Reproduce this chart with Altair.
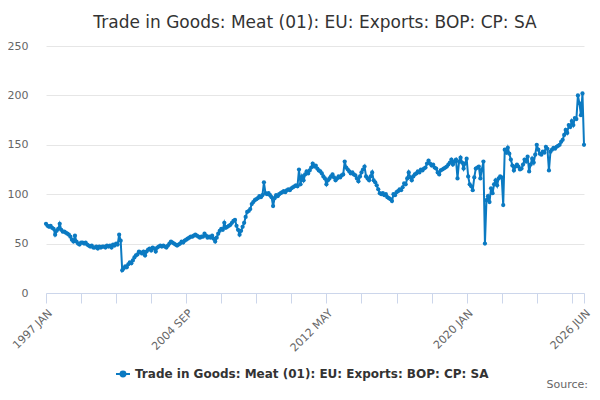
import json

import altair as alt
import pandas as pd


title = "Trade in Goods: Meat (01): EU: Exports: BOP: CP: SA"
series_name = "Trade in Goods: Meat (01): EU: Exports: BOP: CP: SA"
line_color = "#0b7ac2"
font = "DejaVu Sans"

# monthly values, one list per year
y1997 = [70, 68, 67, 68, 66, 65, 59, 63, 65, 70, 64, 62]
y1998 = [62, 61, 60, 59, 57, 54, 52, 58, 52, 50, 49, 51]
y1999 = [51, 50, 51, 49, 48, 47, 48, 46, 46, 47, 45, 47]
y2000 = [46, 47, 47, 46, 48, 47, 48, 46, 49, 48, 50, 49]
y2001 = [59, 53, 23, 25, 27, 26, 29, 31, 30, 33, 36, 38]
y2002 = [39, 42, 41, 40, 42, 38, 42, 44, 45, 43, 46, 45]
y2003 = [42, 46, 47, 48, 47, 48, 47, 46, 48, 50, 52, 51]
y2004 = [50, 49, 48, 49, 50, 52, 51, 53, 54, 55, 56, 57]
y2005 = [57, 58, 59, 58, 57, 56, 57, 57, 60, 58, 56, 57]
y2006 = [56, 58, 55, 52, 56, 60, 63, 65, 64, 71, 66, 67]
y2007 = [68, 69, 71, 73, 74, 68, 64, 59, 63, 67, 71, 77]
y2008 = [82, 83, 85, 90, 92, 94, 95, 96, 98, 97, 99, 112]
y2009 = [101, 100, 101, 99, 97, 88, 96, 99, 98, 100, 101, 102]
y2010 = [103, 102, 104, 105, 104, 106, 107, 108, 109, 108, 125, 110]
y2011 = [118, 114, 120, 123, 121, 124, 127, 131, 128, 129, 126, 124]
y2012 = [123, 121, 118, 116, 110, 114, 116, 118, 120, 117, 114, 116]
y2013 = [118, 117, 119, 120, 133, 127, 125, 123, 121, 122, 120, 119]
y2014 = [116, 113, 118, 122, 125, 128, 118, 116, 114, 118, 122, 114]
y2015 = [112, 109, 105, 101, 100, 101, 99, 100, 97, 96, 95, 93]
y2016 = [100, 99, 102, 103, 105, 104, 107, 111, 110, 116, 122, 117]
y2017 = [114, 118, 120, 121, 123, 122, 125, 124, 126, 127, 131, 134]
y2018 = [131, 129, 130, 127, 126, 122, 120, 124, 125, 126, 127, 128]
y2019 = [130, 132, 135, 130, 133, 135, 116, 133, 137, 132, 126, 131]
y2020 = [136, 118, 110, 108, 104, 117, 126, 127, 128, 116, 125, 133]
y2021 = [50, 94, 98, 92, 106, 101, 110, 114, 109, 116, 118, 117]
y2022 = [89, 145, 142, 147, 141, 135, 129, 124, 128, 130, 128, 125]
y2023 = [126, 130, 135, 133, 138, 123, 130, 136, 132, 140, 150, 145]
y2024 = [141, 140, 143, 142, 148, 146, 124, 143, 145, 147, 146, 148]
y2025 = [149, 150, 153, 155, 160, 165, 162, 170, 168, 174, 170, 177]
y2026 = [176, 200, 192, 180, 202, 150]

values = (y1997 + y1998 + y1999 + y2000 + y2001 + y2002 + y2003 + y2004
          + y2005 + y2006 + y2007 + y2008 + y2009 + y2010 + y2011 + y2012
          + y2013 + y2014 + y2015 + y2016 + y2017 + y2018 + y2019 + y2020
          + y2021 + y2022 + y2023 + y2024 + y2025 + y2026)

months = list(pd.date_range("1997-01-01", periods=len(values), freq="MS")
              .strftime("%Y %b").str.upper())

# ticks every 23 months plus the last one, labels on every 4th tick
tick_months = months[::23] + [months[-1]]
label_months = ["1997 JAN", "2004 SEP", "2012 MAY", "2020 JAN", "2026 JUN"]
y_ticks = [0, 50, 100, 150, 200, 250]

df = pd.DataFrame({"month": months, "value": values, "series": series_name})

label_expr = "indexof(%s, datum.value) >= 0 ? datum.value : ''" % json.dumps(label_months)

line = alt.Chart(df).mark_line(
    strokeWidth=2,
    point=alt.OverlayMarkDef(filled=True, size=18),
).encode(
    x=alt.X("month:O", sort=None, scale=alt.Scale(type="point", padding=0),
            axis=alt.Axis(values=tick_months, labelExpr=label_expr, labelAngle=-45,
                          labelOverlap=False, tickSize=10, tickColor="#ccd6eb",
                          domainColor="#ccd6eb", grid=False, title=None,
                          labelPadding=4)),
    y=alt.Y("value:Q", scale=alt.Scale(domain=[0, 250], nice=False),
            axis=alt.Axis(values=y_ticks, tickSize=0, domain=False, title=None,
                          labelPadding=18, gridColor="#e6e6e6")),
    color=alt.Color("series:N", scale=alt.Scale(range=[line_color]),
                    legend=alt.Legend(title=None, orient="none", legendX=69, legendY=320,
                                      symbolType="M-1,0L1,0M-0.35,0A0.35,0.35 0 1,0 0.35,0A0.35,0.35 0 1,0 -0.35,0Z",
                                      symbolSize=196, symbolStrokeWidth=2,
                                      symbolFillColor=line_color,
                                      labelFontSize=12, labelFontWeight="bold",
                                      labelColor="#333333", labelLimit=500)),
)

source = alt.Chart(pd.DataFrame({"t": ["Source:"]})).mark_text(
    align="right", baseline="alphabetic", font=font, fontSize=11, color="#666666"
).encode(
    x=alt.value(542), y=alt.value(342), text="t:N"
)

chart = alt.layer(line, source).properties(
    width=538,
    height=247,
    autosize=alt.AutoSizeParams(type="none"),
    padding={"left": 38, "top": 38, "right": 8, "bottom": 99},
    title=alt.TitleParams(title, font=font, fontSize=17, fontWeight="normal",
                          color="#333333", anchor="middle", frame="group", offset=8),
).configure_axis(
    labelFont=font, labelFontSize=11, labelColor="#666666"
).configure_legend(
    labelFont=font
).configure_view(
    stroke=None
)

chart.save("out.html", embed_options={"renderer": "svg", "actions": False})
